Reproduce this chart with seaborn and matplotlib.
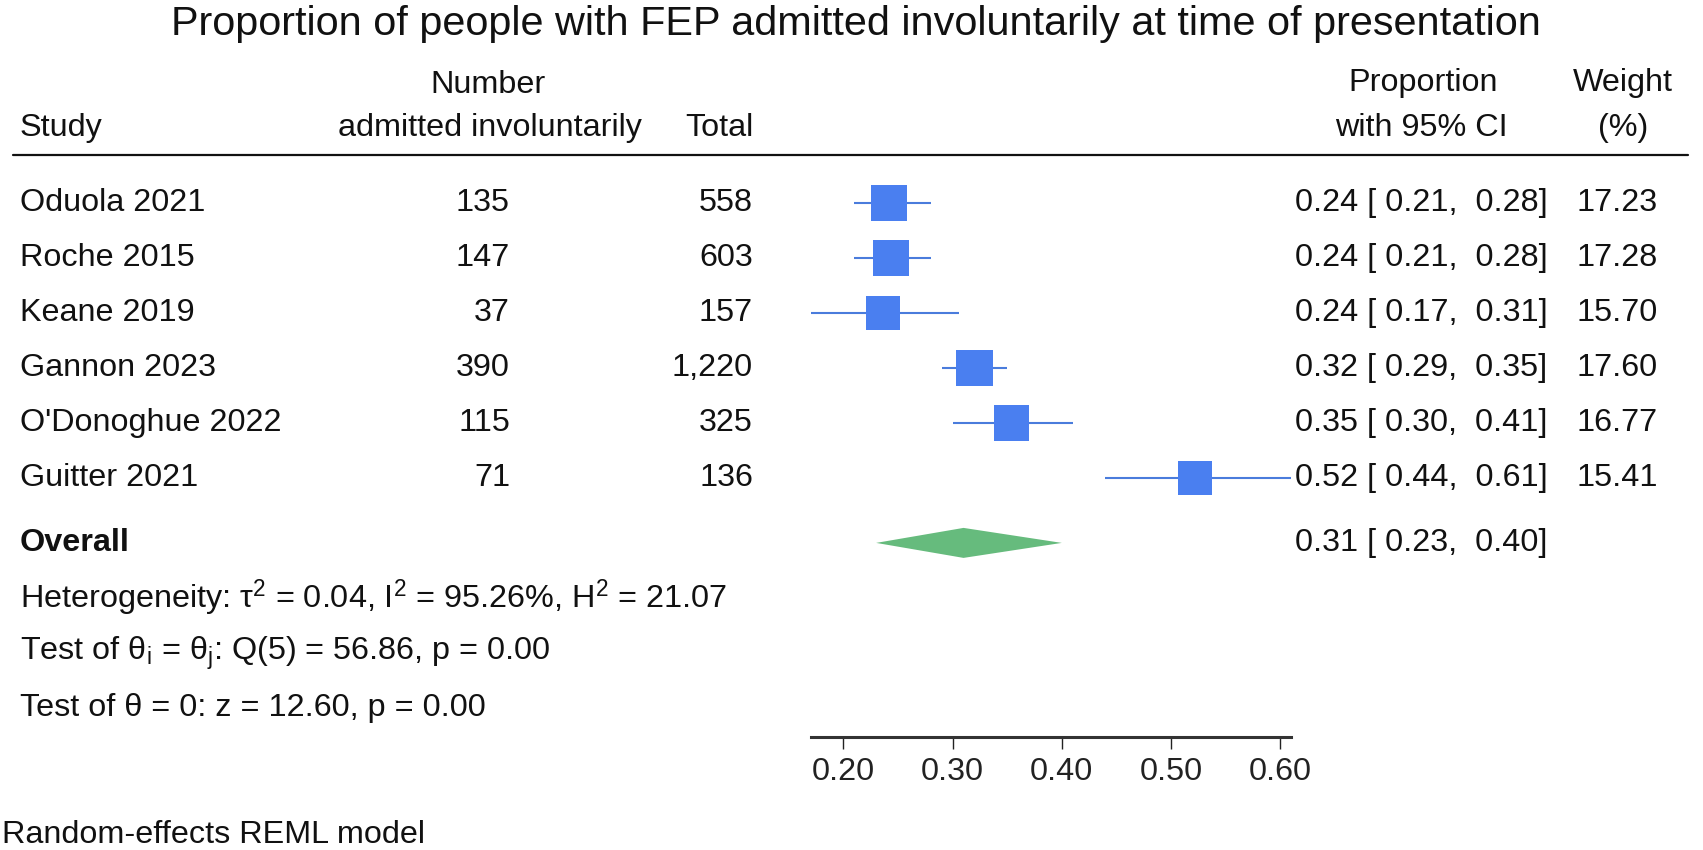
import matplotlib
matplotlib.use("Agg")
import matplotlib.pyplot as plt
import matplotlib.transforms as mtransforms
from matplotlib.lines import Line2D
from matplotlib.ticker import FormatStrFormatter
import seaborn as sns
import pandas as pd

# Data
studies = ["Oduola 2021", "Roche 2015", "Keane 2019", "Gannon 2023", "O'Donoghue 2022", "Guitter 2021"]
n_invol = [135, 147, 37, 390, 115, 71]
n_total = [558, 603, 157, 1220, 325, 136]
est = [0.242, 0.244, 0.236, 0.320, 0.354, 0.522]
ci_lo = [0.21, 0.21, 0.17, 0.29, 0.30, 0.44]
ci_hi = [0.28, 0.28, 0.306, 0.35, 0.41, 0.61]
weights = [17.23, 17.28, 15.70, 17.60, 16.77, 15.41]
overall = [0.31, 0.23, 0.40]
xticks = [0.20, 0.30, 0.40, 0.50, 0.60]

stats_lines = [
    r"Heterogeneity: τ$^\mathregular{2}$ = 0.04, I$^\mathregular{2}$ = 95.26%, H$^\mathregular{2}$ = 21.07",
    r"Test of θ$_\mathregular{i}$ = θ$_\mathregular{j}$: Q(5) = 56.86, p = 0.00",
    "Test of θ = 0: z = 12.60, p = 0.00",
]

sns.set_style("white")
plt.rcParams["font.family"] = ["Liberation Sans", "DejaVu Sans"]
plt.rcParams["mathtext.fontset"] = "custom"
plt.rcParams["mathtext.rm"] = "Liberation Sans"
plt.rcParams["mathtext.it"] = "Liberation Sans"

W, H = 1703, 850
FS = 23.3
SQ_COL = "#4a7ff0"
LINE_COL = "#4a7cdc"
DIA_COL = "#66bb7d"

df = pd.DataFrame({"study": studies, "est": est, "lo": ci_lo, "hi": ci_hi, "w": weights})
df["row"] = range(len(df))
overall_row = 6.18

fig = plt.figure(figsize=(W / 100, H / 100), dpi=100)
# forest axes: x(px) = 625 + 1092 * value, rows 55 px apart starting at y=203
x0, x1 = 0.15, 0.65
left_px = 625 + 1092 * x0
right_px = 625 + 1092 * x1
top_px, bot_px = 160, 737
ax = fig.add_axes([left_px / W, 1 - bot_px / H, (right_px - left_px) / W, (bot_px - top_px) / H])
ax.set_xlim(x0, x1)
ax.set_ylim((bot_px - 203) / 55, (top_px - 203) / 55)

# CI lines then squares sized by weight
ax.hlines(df["row"], df["lo"], df["hi"], color=LINE_COL, lw=1.5, zorder=2)
side_pt = [8.65 * w ** 0.5 * 0.72 for w in weights]
sns.scatterplot(data=df, x="est", y="row", marker="s", color=SQ_COL,
                s=[s ** 2 for s in side_pt], linewidth=0, ax=ax, zorder=3, legend=False)

# overall diamond
hh = 15 / 55
ax.fill([overall[1], overall[0], overall[2], overall[0]],
        [overall_row, overall_row - hh, overall_row, overall_row + hh],
        color=DIA_COL, lw=0, zorder=3)

for s in ["left", "top", "right"]:
    ax.spines[s].set_visible(False)
ax.spines["bottom"].set_bounds(min(ci_lo), max(ci_hi))
ax.spines["bottom"].set_linewidth(2.2)
ax.spines["bottom"].set_color("#333333")
ax.set_yticks([])
ax.set_xticks(xticks)
ax.xaxis.set_major_formatter(FormatStrFormatter("%.2f"))
ax.tick_params(axis="x", direction="out", length=8.5, width=1.0, colors="#222222",
               labelsize=FS, pad=6, bottom=True)
ax.set_xlabel("")
ax.set_ylabel("")

# text columns: x in figure pixels, y in row units
tr = mtransforms.blended_transform_factory(fig.transFigure, ax.transData)


def px(x):
    return x / W


def row_y(ypx):
    return (ypx - 203) / 55


txt = dict(transform=tr, fontsize=FS, va="center", color="#111111")
for i, r in df.iterrows():
    ax.text(px(20), i, r["study"], ha="left", **txt)
    ax.text(px(510), i, f"{n_invol[i]:,}", ha="right", **txt)
    ax.text(px(753), i, f"{n_total[i]:,}", ha="right", **txt)
    ax.text(px(1295), i, f"{r['est']:.2f} [ {r['lo']:.2f},  {r['hi']:.2f}]", ha="left", **txt)
    ax.text(px(1658), i, f"{r['w']:.2f}", ha="right", **txt)

ax.text(px(20), overall_row, "Overall", ha="left", fontweight="bold", **txt)
ax.text(px(1295), overall_row,
        f"{overall[0]:.2f} [ {overall[1]:.2f},  {overall[2]:.2f}]", ha="left", **txt)
for k, line in enumerate(stats_lines):
    ax.text(px(20), row_y(598 + 55 * k), line, ha="left", **txt)

# headers
ax.text(px(488), row_y(85), "Number", ha="center", **txt)
ax.text(px(20), row_y(128), "Study", ha="left", **txt)
ax.text(px(490), row_y(128), "admitted involuntarily", ha="center", **txt)
ax.text(px(753), row_y(128), "Total", ha="right", **txt)
ax.text(px(1423), row_y(83), "Proportion", ha="center", **txt)
ax.text(px(1421), row_y(128), "with 95% CI", ha="center", **txt)
ax.text(px(1623), row_y(83), "Weight", ha="center", **txt)
ax.text(px(1623), row_y(128), "(%)", ha="center", **txt)
fig.add_artist(Line2D([px(13), px(1688)], [1 - 155 / H, 1 - 155 / H],
                      transform=fig.transFigure, color="#111111", lw=1.6))

fig.text(px(856), 1 - 35 / H, "Proportion of people with FEP admitted involuntarily at time of presentation",
         ha="center", va="baseline", fontsize=29.8, color="#111111")
fig.text(px(2), 1 - 835 / H, "Random-effects REML model", ha="left", va="center",
         fontsize=FS, color="#111111")

fig.savefig("out.png", dpi=100)
